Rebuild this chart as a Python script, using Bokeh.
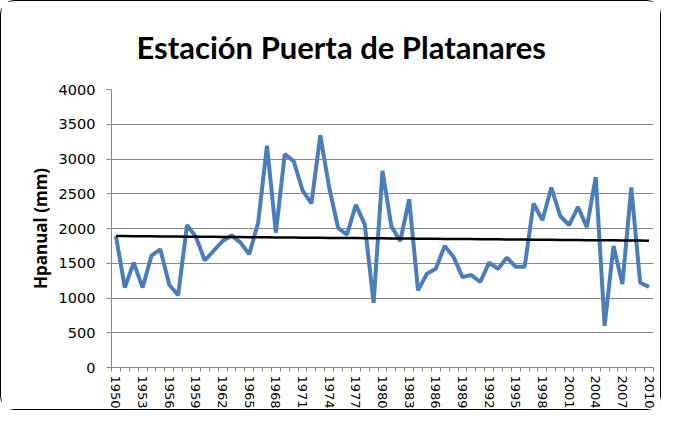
import numpy as np
from bokeh.plotting import figure
from bokeh.models import FixedTicker, Range1d, ColumnDataSource
from bokeh.embed import file_html
from bokeh.resources import INLINE

years = list(range(1950, 2011))
precip = [1890, 1150, 1510, 1150, 1610, 1700, 1190, 1040, 2050, 1880,
          1540, 1680, 1820, 1900, 1800, 1630, 2080, 3190, 1940, 3070,
          2970, 2550, 2360, 3340, 2590, 2010, 1910, 2340, 2060, 930,
          2830, 2030, 1820, 2420, 1110, 1350, 1420, 1750, 1590, 1300,
          1330, 1230, 1510, 1420, 1580, 1450, 1450, 2360, 2120, 2590,
          2180, 2050, 2310, 2020, 2740, 600, 1750, 1200, 2590, 1220, 1160]
tick_years = list(range(1950, 2011, 3))
y_ticks = list(range(0, 4001, 500))

slope, intercept = np.polyfit(years, precip, 1)
trend = [slope * y + intercept for y in years]

src = ColumnDataSource(dict(x=years, y=precip, t=trend))

p = figure(width=661, height=410, output_backend="svg", toolbar_location=None,
           x_range=Range1d(1949.5, 2010.5), y_range=Range1d(0, 4000),
           min_border_left=110, min_border_right=9, min_border_top=87, min_border_bottom=39)
p.styles = {"border": "1.5px solid #000000", "border-radius": "14px"}

p.title.text = "Estación Puerta de Platanares"
p.title.text_font = "Lato"
p.title.text_font_style = "bold"
p.title.text_font_size = "31px"
p.title.text_color = "#000000"
p.title.align = "left"
p.title.offset = 25
p.title.standoff = 48

p.line("x", "y", source=src, line_color="#4a7ebb", line_width=4)
p.line("x", "t", source=src, line_color="#000000", line_width=2.5)

p.xgrid.visible = False
p.ygrid.grid_line_color = "#878787"
p.ygrid.grid_line_width = 1
p.outline_line_color = None

xa = p.xaxis[0]
xa.ticker = FixedTicker(ticks=tick_years, minor_ticks=[y - 0.5 for y in years] + [2010.5])
xa.major_tick_in = 0
xa.major_tick_out = 0
xa.minor_tick_in = 0
xa.minor_tick_out = 4
xa.minor_tick_line_color = "#868686"
xa.axis_line_color = "#868686"
xa.major_label_orientation = "vertical"
xa.major_label_text_font = "DejaVu Sans"
xa.major_label_text_font_size = "13px"
xa.major_label_text_color = "#000000"
xa.major_label_standoff = 4

ya = p.yaxis[0]
ya.ticker = FixedTicker(ticks=y_ticks)
ya.minor_tick_out = 0
ya.minor_tick_in = 0
ya.major_tick_in = 0
ya.major_tick_out = 5
ya.major_tick_line_color = "#868686"
ya.axis_line_color = "#868686"
ya.major_label_text_font = "DejaVu Sans"
ya.major_label_text_font_size = "14.5px"
ya.major_label_text_color = "#000000"
ya.major_label_standoff = 11
ya.axis_label = "Hpanual (mm)"
ya.axis_label_text_font = "Open Sans"
ya.axis_label_text_font_style = "bold"
ya.axis_label_text_font_size = "17px"
ya.axis_label_text_color = "#000000"
ya.axis_label_standoff = 4

open("out.html", "w").write(file_html(p, INLINE))
